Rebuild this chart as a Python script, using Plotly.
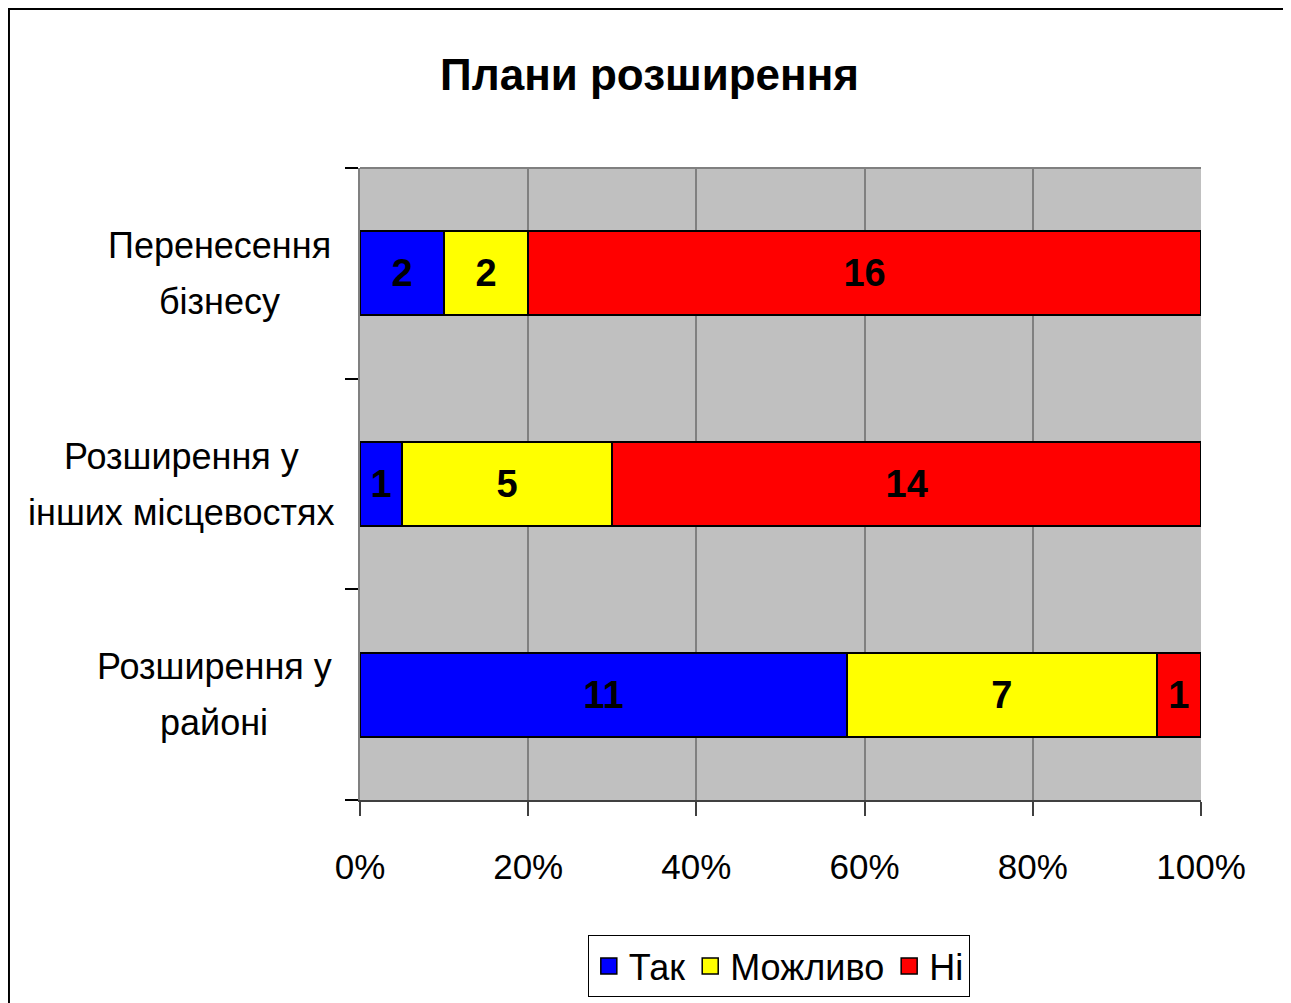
import plotly.graph_objects as go

# дані
kategorii = ["Перенесення<br>бізнесу", "Розширення у<br>інших місцевостях", "Розширення у<br>районі"]
tak = [2, 1, 11]
mozhlyvo = [2, 5, 7]
ni = [16, 14, 1]
seriyi = ["Так", "Можливо", "Ні"]
kolory = ["#0000FF", "#FFFF00", "#FF0000"]
x_tiky = [0, 20, 40, 60, 80, 100]
x_pidpysy = ["0%", "20%", "40%", "60%", "80%", "100%"]

shrift = "Liberation Sans Narrow, Arial Narrow, Liberation Sans, Arial"

fig = go.Figure()
for nazva, znach, kolir in zip(seriyi, [tak, mozhlyvo, ni], kolory):
    fig.add_trace(go.Bar(
        y=kategorii, x=znach, name=nazva, orientation="h", showlegend=False,
        marker=dict(color=kolir, line=dict(color="black", width=2)),
        text=[str(v) for v in znach], textposition="inside",
        insidetextanchor="middle", textangle=0, constraintext="none",
        textfont=dict(family=shrift, size=38, color="black", weight="bold"),
    ))
# квадратики для легенди
for nazva, kolir in zip(seriyi, kolory):
    fig.add_trace(go.Scatter(
        x=[None], y=[None], mode="markers", name=nazva,
        marker=dict(symbol="square", size=16, color=kolir, line=dict(color="black", width=1.5)),
    ))

# сторінка має відступ 8px, тому фігура трохи менша
fig.update_layout(
    width=1283, height=995,
    barmode="stack", barnorm="percent", bargap=0.6,
    paper_bgcolor="white", plot_bgcolor="#C0C0C0",
    margin=dict(l=352, r=90, t=160, b=203, autoexpand=False),
    font=dict(family=shrift, size=35, color="black"),
    title=dict(text="<b>Плани розширення</b>", x=0.5, xanchor="center",
               xref="container", y=0.9327, yanchor="middle",
               font=dict(family=shrift, size=44, color="black")),
    legend=dict(orientation="h", x=0.498, xanchor="center", y=-0.263, yanchor="middle",
                bordercolor="black", borderwidth=1, bgcolor="white",
                font=dict(family=shrift, size=36), traceorder="normal",
                itemwidth=30),
    showlegend=True,
)
fig.update_xaxes(range=[0, 100], tickvals=x_tiky, ticktext=x_pidpysy,
                 showgrid=True, gridcolor="#808080", gridwidth=2,
                 ticks="outside", ticklen=14, tickcolor="#404040", tickwidth=2,
                 showline=True, linecolor="#404040", linewidth=2,
                 zeroline=False, tickfont=dict(size=35), ticklabelstandoff=21)
fig.update_yaxes(categoryorder="array", categoryarray=kategorii[::-1],
                 tickson="boundaries", ticks="outside", ticklen=13,
                 tickcolor="black", tickwidth=2, showticklabels=False,
                 showline=True, linecolor="#808080", linewidth=2,
                 showgrid=False)

# підписи категорій: кожен рядок окремо, по центру блоку
tsentry_x = [-0.1665, -0.2125, -0.1732]
for k, cx in zip(kategorii, tsentry_x):
    ryadky = k.split("<br>")
    for i, r in enumerate(ryadky):
        fig.add_annotation(x=cx, xref="paper", y=k, yref="y", text=r,
                           xanchor="center", yanchor="middle",
                           yshift=28 - 56 * i, showarrow=False,
                           font=dict(family=shrift, size=36))

# рамка навколо всієї діаграми
fig.add_shape(type="rect", xref="paper", yref="paper",
              x0=-0.4174, x1=1.1034, y0=-0.35, y1=1.2516,
              line=dict(color="black", width=2), fillcolor="rgba(0,0,0,0)")
# сіра лінія зверху області побудови
fig.add_shape(type="line", xref="paper", yref="paper", x0=0, x1=1, y0=1, y1=1,
              line=dict(color="#808080", width=2))

fig.write_html("out.html")
